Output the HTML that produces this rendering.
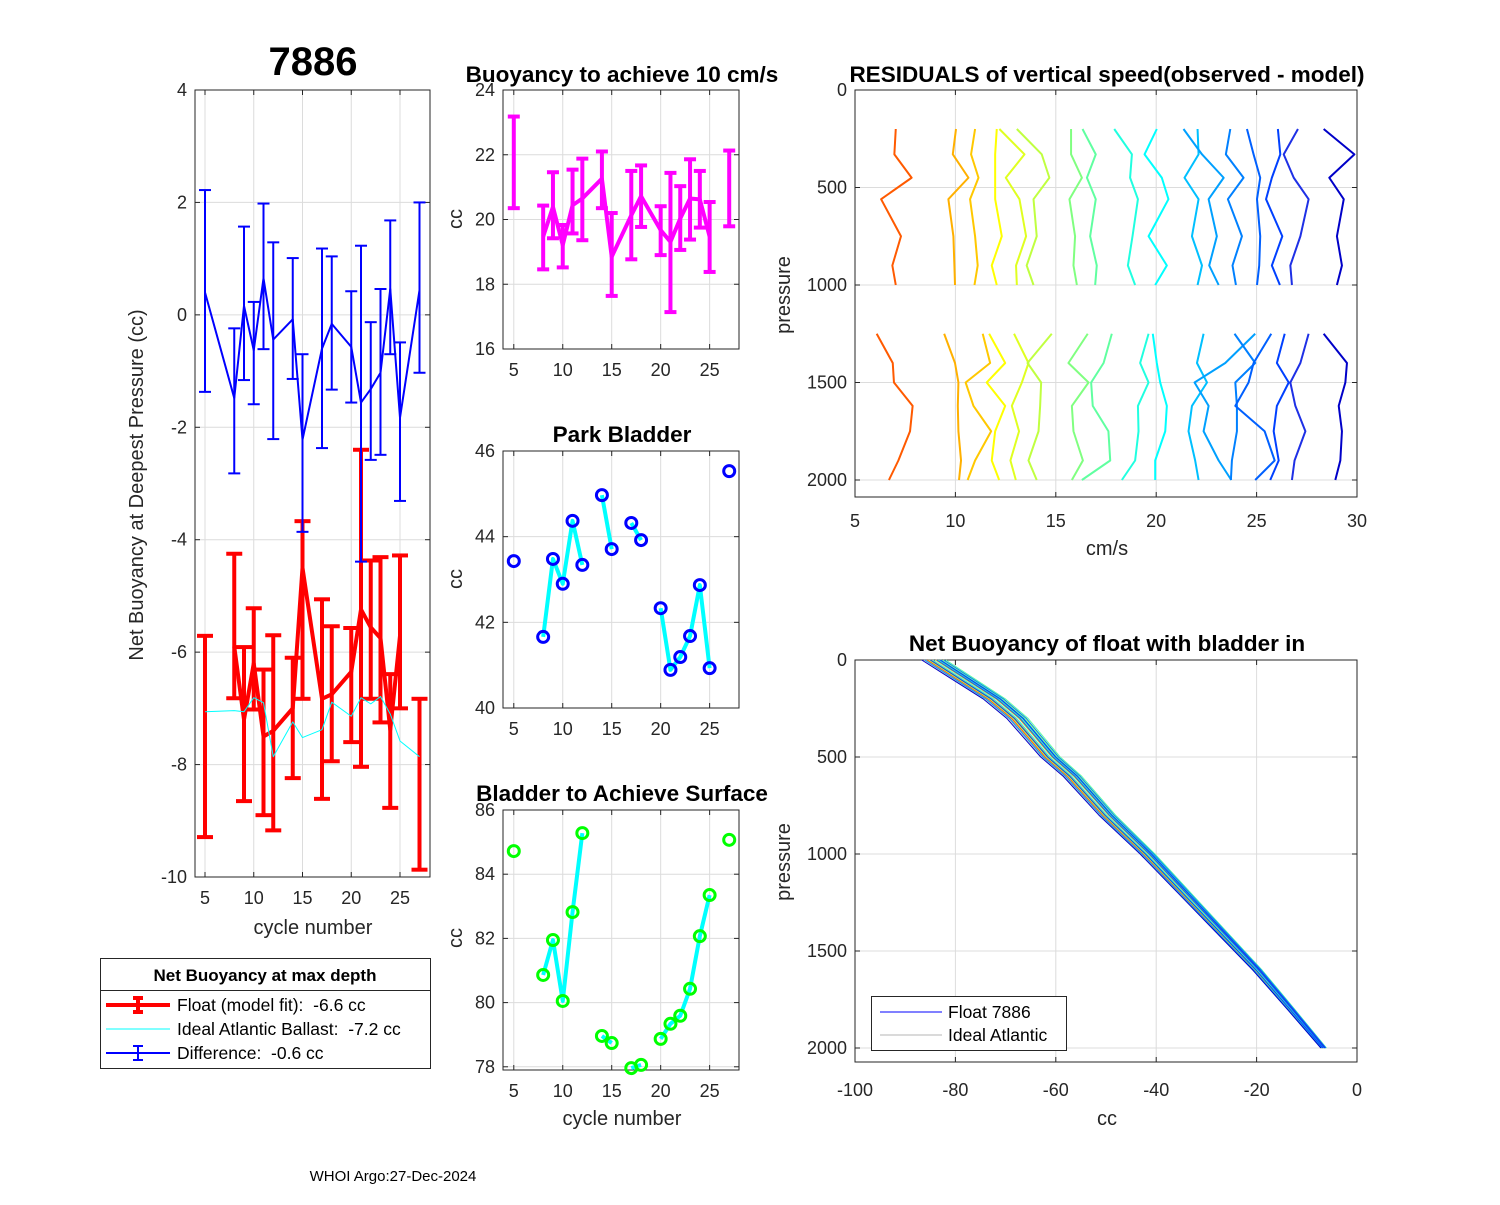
<!DOCTYPE html>
<html><head><meta charset="utf-8"><style>
body{margin:0;background:#fff;}
svg{font-family:"Liberation Sans",Arial,sans-serif;}
.tk{font-size:18px;fill:#262626;}
.ttl{font-size:22.5px;font-weight:bold;fill:#000;}
.lbl{font-size:20px;fill:#262626;}
</style></head><body>
<svg id="fig" width="1500" height="1200" viewBox="0 0 1500 1200" xmlns="http://www.w3.org/2000/svg">
<rect width="1500" height="1200" fill="#fff"/>
<g id="root"></g>
</svg>
<script>
// ---- Panel 1: net buoyancy at deepest pressure ----
const cycles = [5,8,9,10,11,12,14,15,17,18,20,21,22,23,24,25,27];
const blueMid = [0.40,-1.48,0.16,-0.63,0.65,-0.44,-0.08,-2.22,-0.60,-0.16,-0.57,-1.56,-1.32,-1.03,0.46,-1.83,0.44];
const blueHi  = [2.22,-0.24,1.57,0.23,1.98,1.29,1.01,-0.70,1.18,1.04,0.42,1.23,-0.13,0.46,1.68,-0.49,2.0];
const blueLo  = [-1.37,-2.82,-1.16,-1.59,-0.61,-2.21,-1.14,-3.86,-2.37,-1.33,-1.56,-4.39,-2.58,-2.49,-0.70,-3.31,-1.03];
const redMid = [null,-5.9,-7.2,-6.2,-7.5,-7.4,-7.0,-4.5,-6.83,-6.75,-6.35,-5.24,-5.56,-5.75,-7.38,-5.71,null];
const redHi  = [-5.71,-4.25,-5.91,-5.22,-6.31,-5.70,-6.1,-3.67,-5.06,-5.54,-5.57,-2.4,-4.37,-4.31,-6.39,-4.28,-6.83];
const redLo  = [-9.29,-6.82,-8.65,-7.02,-8.9,-9.17,-8.24,-6.83,-8.61,-7.94,-7.6,-8.04,-6.83,-7.25,-8.77,-7.0,-9.87];
const ideal  = [-7.06,-7.04,-7.06,-6.81,-6.9,-7.86,-7.24,-7.52,-7.38,-6.89,-7.14,-6.81,-6.92,-6.79,-7.1,-7.58,-7.86];
// ---- Panel 2: buoyancy to achieve 10 cm/s ----
const b10Mid = [null,19.47,20.39,19.21,20.44,20.65,21.26,18.85,20.13,20.72,19.67,19.31,20.03,20.65,20.62,19.47,null];
const b10Hi  = [23.18,20.43,21.46,19.83,21.54,21.88,22.1,20.2,21.5,21.67,20.41,21.44,21.03,21.86,21.5,20.54,22.13];
const b10Lo  = [20.35,18.46,19.42,18.52,19.57,19.36,20.35,17.64,18.77,19.77,18.9,17.14,19.06,19.38,19.75,18.38,19.79];
// ---- Panel 3: park bladder ----
const parkVals = [43.43,41.66,43.48,42.9,44.37,43.34,44.97,43.71,44.32,43.92,42.33,40.89,41.19,41.68,42.87,40.93,45.53];
// ---- Panel 4: bladder to achieve surface ----
const surfVals = [84.72,80.86,81.95,80.05,82.82,85.28,78.96,78.74,77.96,78.06,78.87,79.34,79.59,80.43,82.07,83.35,85.07];
// ---- Panel 5: residuals ----
const resUpperP = [200,330,450,560,750,900,1000];
const resLowerP = [1250,1400,1500,1620,1750,1900,2000];
const resColors = ['#ff5a00','#ffb000','#ffc800','#ffff00','#e0ff20','#c0ff40','#80ff80','#60ffa0','#20ffe0','#00ffff','#00c0ff','#00a0ff','#0080ff','#0060ff','#0040ff','#1e30e6','#0000c8'];
const resUpper = [
[7.03,6.96,7.82,6.30,7.29,6.86,7.03],[10.03,9.87,10.65,9.65,9.90,9.95,9.98],[10.98,10.78,11.15,10.73,10.98,11.11,10.95],
[12.06,11.98,11.98,11.98,12.31,11.81,12.06],[12.19,13.44,12.51,13.19,13.52,13.02,13.06],[13.06,14.30,14.68,13.89,14.05,13.55,13.89],
[15.76,15.76,16.30,15.68,15.96,15.88,16.05],[16.33,16.99,16.55,16.99,16.71,17.04,16.96],[17.91,18.79,18.70,19.09,18.82,18.59,18.95],
[20.03,19.42,20.28,20.61,19.62,20.53,19.95],[22.06,22.11,21.41,22.11,21.78,22.28,22.06],[21.36,22.28,23.36,22.61,23.02,22.64,23.11],
[23.69,23.47,24.35,23.57,24.27,23.80,23.97],[24.52,24.85,25.18,25.02,25.18,25.13,25.02],[26.06,26.18,25.76,25.47,26.28,25.76,26.16],
[27.06,26.35,26.85,27.59,27.18,26.68,26.76],[28.34,29.87,28.62,29.34,29.00,29.25,29.00]];
const resLower = [
[6.08,6.88,6.94,7.87,7.74,7.16,6.69],[9.44,9.98,10.15,10.12,10.15,10.28,10.18],[11.36,11.73,10.51,10.90,11.78,10.98,10.61],
[11.68,12.48,11.56,12.48,11.98,11.81,12.18],[12.92,13.64,13.31,12.81,13.17,12.74,13.01],[14.80,13.59,14.27,14.22,14.14,13.64,14.05],
[16.59,15.63,16.63,15.80,15.88,16.35,15.80],[17.79,17.38,16.76,16.84,17.62,17.71,16.30],[19.62,19.20,19.62,19.09,19.12,18.95,18.29],
[19.83,20.03,20.20,20.53,20.45,19.95,19.95],[22.36,22.03,22.53,21.78,21.61,21.94,22.11],[24.93,23.44,21.91,22.61,22.36,23.11,23.74],
[23.90,24.93,23.94,24.02,24.02,23.77,23.72],[25.73,24.85,24.60,23.94,25.40,25.90,24.93],[26.40,26.01,26.60,26.01,25.85,26.10,25.68],
[27.59,27.18,26.68,26.93,27.43,26.89,26.76],[28.34,29.50,29.42,29.09,29.25,29.17,28.92]];
// ---- Panel 6: net buoyancy with bladder in ----
const nbP = [0,100,200,300,400,500,600,800,1000,1200,1400,1600,1800,2000];
const nbMean = [-84.1,-78.1,-72.1,-67.5,-64.2,-60.9,-56.5,-49.6,-41.6,-34.3,-27.0,-19.7,-13.1,-6.6];
const nbFloatShift = [-1.5,-0.8,0.2,1.0,1.6,-1.2,0.6,2.2,-0.4,1.3,0.9,-2.0,1.8,0.4,-0.9,1.1,-2.6];
const nbIdealShift = [-1.8,-1.0,-0.4,0.3,-1.4,-0.6,0.1,-2.2];

const NS='http://www.w3.org/2000/svg';
const root=document.getElementById('root');
function mk(tag,attrs,parent){const e=document.createElementNS(NS,tag);for(const k in attrs)e.setAttribute(k,attrs[k]);(parent||root).appendChild(e);return e;}
function txt(s,x,y,cls,anchor,parent,extra){const t=mk('text',Object.assign({x:x,y:y,class:cls,'text-anchor':anchor||'middle'},extra||{}),parent);t.textContent=s;return t;}
function lin(d0,d1,r0,r1){return v=>r0+(v-d0)/(d1-d0)*(r1-r0);}

function axes(name,x0,y0,x1,y1,xs,ys,xt,yt,xfmt,yfmt,xoff){
  const g=mk('g',{});
  
  
  xt.forEach(v=>{const x=xs(v);mk('line',{x1:x,x2:x,y1:y0,y2:y1,stroke:'#dcdcdc','stroke-width':1},g);});
  yt.forEach(v=>{const y=ys(v);mk('line',{x1:x0,x2:x1,y1:y,y2:y,stroke:'#dcdcdc','stroke-width':1},g);});
  mk('rect',{x:x0,y:y0,width:x1-x0,height:y1-y0,fill:'none',stroke:'#262626','stroke-width':1},g);
  xt.forEach(v=>{const x=xs(v);mk('line',{x1:x,x2:x,y1:y1,y2:y1-5,stroke:'#262626'},g);mk('line',{x1:x,x2:x,y1:y0,y2:y0+5,stroke:'#262626'},g);
    const t=txt(xfmt?xfmt(v):String(v),x,y1+(xoff||27),'tk','middle',g);});
  yt.forEach(v=>{const y=ys(v);mk('line',{x1:x0,x2:x0+5,y1:y,y2:y,stroke:'#262626'},g);mk('line',{x1:x1,x2:x1-5,y1:y,y2:y,stroke:'#262626'},g);
    const t=txt(yfmt?yfmt(v):String(v),x0-8,y+6,'tk','end',g);});
  return g;
}
function poly(pts,stroke,w,parent,name){
  const p=mk('polyline',{points:pts.map(q=>q.join(',')).join(' '),fill:'none',stroke:stroke,'stroke-width':w,'stroke-linejoin':'round'},parent);
  
  
  return p;
}
function errbar(x,yh,yl,cap,stroke,w,parent){
  const g=mk('g',{},parent);
  
  
  mk('line',{x1:x,x2:x,y1:yh,y2:yl,stroke:stroke,'stroke-width':w},g);
  mk('line',{x1:x-cap,x2:x+cap,y1:yh,y2:yh,stroke:stroke,'stroke-width':w},g);
  mk('line',{x1:x-cap,x2:x+cap,y1:yl,y2:yl,stroke:stroke,'stroke-width':w},g);
}
function segLine(xsArr,ysArr,xs,ys,stroke,w,parent,name,consecOnly){
  let cur=[];const flush=()=>{if(cur.length>1)poly(cur,stroke,w,parent,name);cur=[];};
  for(let i=0;i<xsArr.length;i++){
    if(ysArr[i]==null){flush();continue;}
    if(consecOnly&&i>0&&xsArr[i]-xsArr[i-1]>1)flush();
    cur.push([xs(xsArr[i]),ys(ysArr[i])]);
  }flush();
}

// Panel 1
{const xs=lin(4,28,195.25,429.25),ys=lin(4,-10,90,877);
 const g=axes('net-buoyancy-axes',195,90,430,877,xs,ys,[5,10,15,20,25],[4,2,0,-2,-4,-6,-8,-10],null,v=>v<0?'-'+Math.abs(v):String(v));
 cycles.forEach((c,i)=>errbar(xs(c),ys(redHi[i]),ys(redLo[i]),8,'#ff0000',4,g));
 segLine(cycles,redMid,xs,ys,'#ff0000',4,g,'float-model-fit-line');
 poly(cycles.map((c,i)=>[xs(c),ys(ideal[i])]),'#00ffff',1,g,'ideal-atlantic-line');
 cycles.forEach((c,i)=>errbar(xs(c),ys(blueHi[i]),ys(blueLo[i]),6,'#0000ff',2,g));
 poly(cycles.map((c,i)=>[xs(c),ys(blueMid[i])]),'#0000ff',2,g,'difference-line');
 const t=txt('7886',313,75,'ttl','middle',g);t.setAttribute('style','font-size:40px');
 const xl=txt('cycle number',313,934,'lbl','middle',g);
 const yl=txt('Net Buoyancy at Deepest Pressure (cc)',143,485,'lbl','middle',g,{transform:'rotate(-90 143 485)'});
}
// Legend 1
{const g=mk('g',{});
 mk('rect',{x:100.5,y:958.5,width:330,height:110,fill:'#fff',stroke:'#262626'},g);
 mk('line',{x1:100.5,x2:430.5,y1:990.5,y2:990.5,stroke:'#262626'},g);
 const t=txt('Net Buoyancy at max depth',265,981,'tk','middle',g);t.setAttribute('style','font-weight:bold;font-size:17px;fill:#000');
 const rows=[['Float (model fit):\u00a0\u00a0-6.6 cc','#ff0000',4,1005],['Ideal Atlantic Ballast:\u00a0\u00a0-7.2 cc','#00ffff',1,1029],['Difference:\u00a0\u00a0-0.6 cc','#0000ff',2,1053]];
 rows.forEach((r,i)=>{const e=mk('g',{},g);
  mk('line',{x1:106,x2:170,y1:r[3],y2:r[3],stroke:r[1],'stroke-width':r[2]},e);
  if(i!==1){mk('line',{x1:138,x2:138,y1:r[3]-7,y2:r[3]+7,stroke:r[1],'stroke-width':r[2]},e);mk('line',{x1:133,x2:143,y1:r[3]-7,y2:r[3]-7,stroke:r[1],'stroke-width':r[2]},e);mk('line',{x1:133,x2:143,y1:r[3]+7,y2:r[3]+7,stroke:r[1],'stroke-width':r[2]},e);}
  txt(r[0],177,r[3]+6,'tk','start',e).setAttribute('style','font-size:17.5px;fill:#000');});
}
// Panel 2
{const xs=lin(4,28,504,739),ys=lin(24,16,90,349);
 const g=axes('buoyancy-10cms-axes',503,90,739,349,xs,ys,[5,10,15,20,25],[24,22,20,18,16]);
 cycles.forEach((c,i)=>errbar(xs(c),ys(b10Hi[i]),ys(b10Lo[i]),6,'#ff00ff',4,g));
 segLine(cycles,b10Mid,xs,ys,'#ff00ff',4,g,'buoyancy-10cms-line');
 txt('Buoyancy to achieve 10 cm/s',622,82,'ttl','middle',g);
 txt('cc',462,219,'lbl','middle',g,{transform:'rotate(-90 462 219)'});
}
// Panel 3
{const xs=lin(4,28,504,739),ys=lin(46,40,451,708);
 const g=axes('park-bladder-axes',503,451,739,708,xs,ys,[5,10,15,20,25],[46,44,42,40]);
 segLine(cycles,parkVals,xs,ys,'#00ffff',4,g,'park-bladder-line',true);
 cycles.forEach((c,i)=>{const m=mk('circle',{cx:xs(c),cy:ys(parkVals[i]),r:5.5,fill:'none',stroke:'#0000ff','stroke-width':3},g);});
 txt('Park Bladder',622,442,'ttl','middle',g);
 txt('cc',462,579,'lbl','middle',g,{transform:'rotate(-90 462 579)'});
}
// Panel 4
{const xs=lin(4,28,504,739),ys=lin(86,77.9,810,1070);
 const g=axes('surface-bladder-axes',503,810,739,1070,xs,ys,[5,10,15,20,25],[86,84,82,80,78]);
 segLine(cycles,surfVals,xs,ys,'#00ffff',4,g,'surface-bladder-line',true);
 cycles.forEach((c,i)=>{const m=mk('circle',{cx:xs(c),cy:ys(surfVals[i]),r:5.5,fill:'none',stroke:'#00ff00','stroke-width':3},g);});
 txt('Bladder to Achieve Surface',622,801,'ttl','middle',g);
 txt('cc',462,938,'lbl','middle',g,{transform:'rotate(-90 462 938)'});
 txt('cycle number',622,1125,'lbl','middle',g);
}
// Panel 5
{const xs=lin(5,30,855,1357),ys=lin(0,2000,90,480);
 const g=axes('residuals-axes',855,90,1357,497,xs,ys,[5,10,15,20,25,30],[0,500,1000,1500,2000],null,null,30);
 resColors.forEach((col,k)=>{
   poly(resUpperP.map((p,i)=>[xs(resUpper[k][i]),ys(p)]),col,2,g,'residual-profile-upper');
   poly(resLowerP.map((p,i)=>[xs(resLower[k][i]),ys(p)]),col,2,g,'residual-profile-lower');
 });
 txt('RESIDUALS of vertical speed(observed - model)',1107,82,'ttl','middle',g);
 txt('cm/s',1107,555,'lbl','middle',g);
 txt('pressure',790,295,'lbl','middle',g,{transform:'rotate(-90 790 295)'});
}
// Panel 6
{const xs=lin(-100,0,855,1357),ys=lin(0,2000,660,1048);
 const g=axes('net-buoyancy-bladder-axes',855,660,1357,1062,xs,ys,[-100,-80,-60,-40,-20,0],[0,500,1000,1500,2000],null,null,34);
 nbIdealShift.forEach(s=>poly(nbP.map((p,i)=>[xs(nbMean[i]+s*(1-p/2600)),ys(p)]),'#b4b4b4',1,g,'ideal-atlantic-line'));
 nbFloatShift.forEach((s,k)=>poly(nbP.map((p,i)=>[xs(nbMean[i]+s*(1-p/2600)),ys(p)]),resColors[k],1,g,'float-buoyancy-line'));
 txt('Net Buoyancy of float with bladder in',1107,651,'ttl','middle',g);
 txt('cc',1107,1125,'lbl','middle',g);
 txt('pressure',790,862,'lbl','middle',g,{transform:'rotate(-90 790 862)'});
 const L=mk('g',{},g);
 mk('rect',{x:871.5,y:996.5,width:195,height:54,fill:'#fff',stroke:'#262626'},L);
 mk('line',{x1:880,x2:942,y1:1012,y2:1012,stroke:'#0000ff','stroke-width':1},L);
 txt('Float 7886',948,1018,'tk','start',L).setAttribute('style','font-size:17.5px;fill:#000');
 mk('line',{x1:880,x2:942,y1:1035,y2:1035,stroke:'#b4b4b4','stroke-width':1},L);
 txt('Ideal Atlantic',948,1041,'tk','start',L).setAttribute('style','font-size:17.5px;fill:#000');
}
{const t=txt('WHOI Argo:27-Dec-2024',393,1181,'tk','middle');t.setAttribute('style','font-size:15px;fill:#000');}
</script>
</body></html>
